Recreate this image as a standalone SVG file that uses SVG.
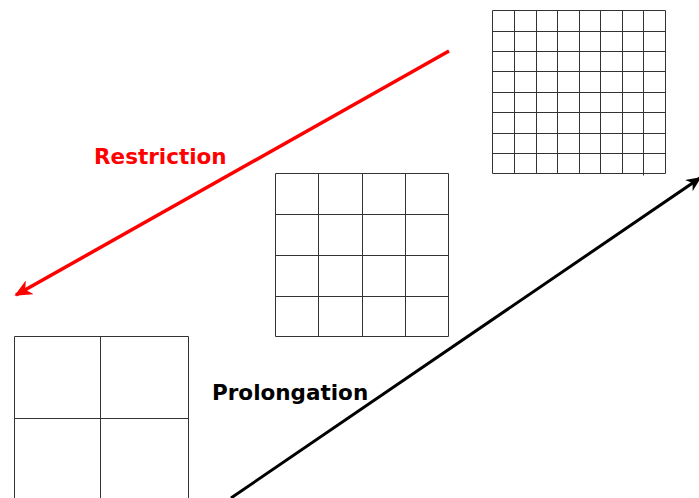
<svg xmlns="http://www.w3.org/2000/svg" width="699" height="498" viewBox="0 0 699 498">
<style>
.g{fill:none;stroke:#333;stroke-width:1}
.lbl{font-family:"DejaVu Sans",sans-serif;font-weight:bold;font-size:21.5px}
</style>
<defs>
<marker id="ar" viewBox="0 0 10 10" refX="9" refY="5" markerWidth="5" markerHeight="4.5" orient="auto" markerUnits="strokeWidth" preserveAspectRatio="none"><path d="M0,0 L10,5 L0,10 L3,5 Z" fill="red"/></marker>
<marker id="ab" viewBox="0 0 10 10" refX="9" refY="5" markerWidth="5" markerHeight="4.5" orient="auto" markerUnits="strokeWidth" preserveAspectRatio="none"><path d="M0,0 L10,5 L0,10 L3,5 Z" fill="black"/></marker>
</defs>
<rect width="699" height="498" fill="#fff"/>
<g id="fine">
<path class="g" d="M492.5,10.5H665.5V173.5H492.5Z M514.5,10.5V173.5 M536.5,10.5V173.5 M557.5,10.5V173.5 M579.5,10.5V173.5 M600.5,10.5V173.5 M622.5,10.5V173.5 M643.5,10.5V175.5 M492.5,31.5H665.5 M492.5,51.5H665.5 M492.5,71.5H665.5 M492.5,92.5H665.5 M492.5,112.5H665.5 M492.5,133.5H665.5 M492.5,153.5H665.5"/>
</g>
<g id="medium">
<path class="g" d="M275.5,173.5H448.5V336.5H275.5Z M318.5,173.5V336.5 M362.5,173.5V336.5 M405.5,173.5V336.5 M275.5,214.5H448.5 M275.5,255.5H448.5 M275.5,296.5H448.5"/>
</g>
<g id="coarse">
<path class="g" d="M14.5,336.5H188.5V500H14.5Z M100.5,336.5V500 M14.5,418.5H188.5"/>
</g>
<g id="connectors">
<line x1="449" y1="51" x2="16" y2="295" stroke="red" stroke-width="3.5" marker-end="url(#ar)"/>
<line x1="231" y1="498" x2="700" y2="178" stroke="black" stroke-width="3" marker-end="url(#ab)"/>
</g>
<text class="lbl" x="94" y="164" fill="red">Restriction</text>
<text class="lbl" x="212" y="400" fill="black">Prolongation</text>
</svg>
